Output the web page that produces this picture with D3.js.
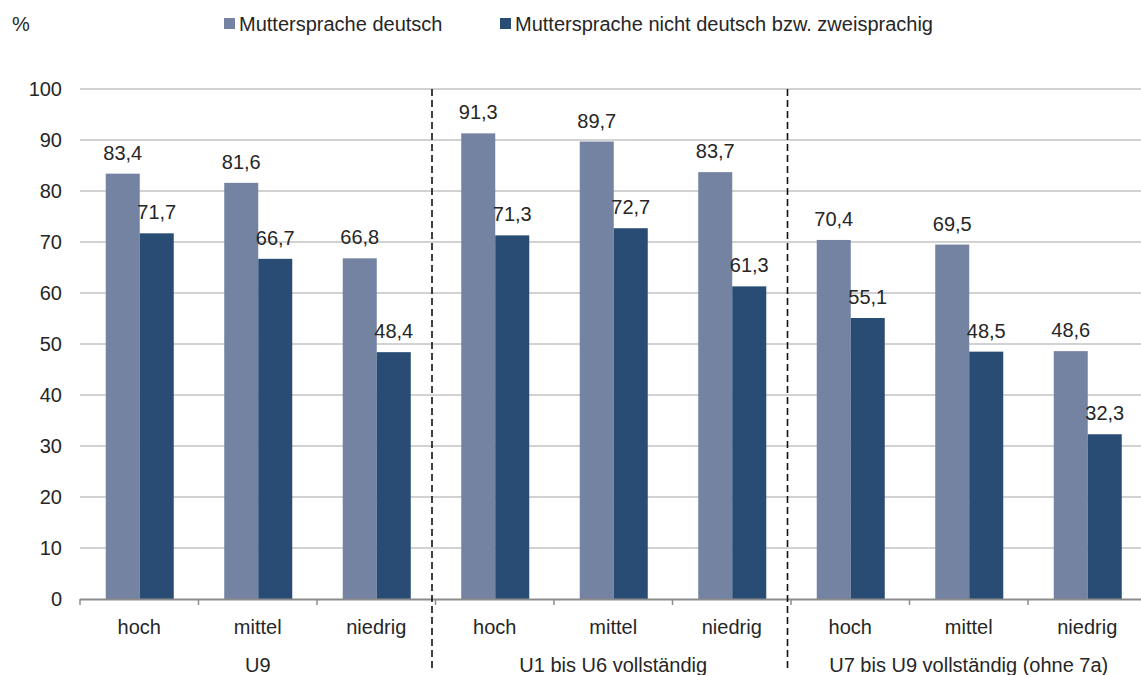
<!DOCTYPE html>
<html>
<head>
<meta charset="utf-8">
<script src="https://cdn.jsdelivr.net/npm/d3@7/dist/d3.min.js"></script>
<style>
  body { margin: 0; background: #fff; }
  svg text { font-family: "Liberation Sans", Arial, sans-serif; fill: #262626; }
</style>
</head>
<body>
<svg id="chart" width="1141" height="675"></svg>
<script>
// Values in percent
const groups = ["U9", "U1 bis U6 vollständig", "U7 bis U9 vollständig (ohne 7a)"];
const levels = ["hoch", "mittel", "niedrig"];
const seriesNames = ["Muttersprache deutsch", "Muttersprache nicht deutsch bzw. zweisprachig"];
const deutsch = [83.4, 81.6, 66.8, 91.3, 89.7, 83.7, 70.4, 69.5, 48.6];
const nichtDeutsch = [71.7, 66.7, 48.4, 71.3, 72.7, 61.3, 55.1, 48.5, 32.3];
const yTicks = [0, 10, 20, 30, 40, 50, 60, 70, 80, 90, 100];
const colors = ["#7383a1", "#294c74"];

const svg = d3.select("#chart");
const plotLeft = 80, plotRight = 1146.5, plotTop = 89, plotBottom = 599;
const fs = 20;

const cats = d3.range(9);
const x = d3.scaleBand().domain(cats).range([plotLeft, plotRight]);
const y = d3.scaleLinear().domain([0, 100]).range([plotBottom, plotTop]);
const bw = x.bandwidth();
const barW = bw * 0.287;
const groupOffset = (bw - 2 * barW) / 2 + 0.5;

const fmt = v => v.toFixed(1).replace(".", ",");

// gridlines
svg.append("g").selectAll("line").data(yTicks.filter(d => d > 0)).join("line")
  .attr("x1", plotLeft).attr("x2", 1141)
  .attr("y1", d => y(d)).attr("y2", d => y(d))
  .attr("stroke", "#a6a6a6").attr("stroke-width", 1.2);

// y axis labels
svg.append("g").selectAll("text").data(yTicks).join("text")
  .attr("x", 62).attr("y", d => y(d)).attr("dy", "0.36em")
  .attr("text-anchor", "end").attr("font-size", fs).text(d => d);

// bars with value labels
const series = [deutsch, nichtDeutsch];
series.forEach((vals, s) => {
  const g = svg.append("g");
  g.selectAll("rect").data(vals).join("rect")
    .attr("x", (d, i) => x(i) + groupOffset + s * barW)
    .attr("y", d => y(d))
    .attr("width", barW)
    .attr("height", d => plotBottom - y(d))
    .attr("fill", colors[s]);
  g.selectAll("text").data(vals).join("text")
    .attr("x", (d, i) => x(i) + groupOffset + s * barW + barW / 2)
    .attr("y", d => y(d) - 14)
    .attr("text-anchor", "middle").attr("font-size", fs)
    .text(d => fmt(d));
});

// x axis line and ticks
svg.append("line").attr("x1", plotLeft).attr("x2", 1141)
  .attr("y1", plotBottom + 0.5).attr("y2", plotBottom + 0.5)
  .attr("stroke", "#8c8c8c").attr("stroke-width", 2);
svg.append("g").selectAll("line").data(d3.range(10)).join("line")
  .attr("x1", i => plotLeft + i * bw).attr("x2", i => plotLeft + i * bw)
  .attr("y1", plotBottom).attr("y2", plotBottom + 6)
  .attr("stroke", "#8c8c8c").attr("stroke-width", 1.5);

// category labels
svg.append("g").selectAll("text").data(cats).join("text")
  .attr("x", i => x(i) + bw / 2).attr("y", 634)
  .attr("text-anchor", "middle").attr("font-size", fs)
  .text(i => levels[i % 3]);

// group labels
svg.append("g").selectAll("text").data(groups).join("text")
  .attr("x", (d, g) => x(g * 3) + bw * 1.5).attr("y", 672)
  .attr("text-anchor", "middle").attr("font-size", fs)
  .text(d => d);

// dashed separators between groups
svg.append("g").selectAll("line").data([3, 6]).join("line")
  .attr("x1", i => x(i) - 3.5).attr("x2", i => x(i) - 3.5)
  .attr("y1", 89).attr("y2", 670)
  .attr("stroke", "#111").attr("stroke-width", 1.6)
  .attr("stroke-dasharray", "7,4");

// unit label
svg.append("text").attr("x", 12).attr("y", 31).attr("font-size", fs).text("%");

// legend
const legendX = [224, 500];
seriesNames.forEach((name, s) => {
  svg.append("rect").attr("x", legendX[s]).attr("y", 18)
    .attr("width", 11).attr("height", 11).attr("fill", colors[s]);
  svg.append("text").attr("x", legendX[s] + 15).attr("y", 31)
    .attr("font-size", fs).text(name);
});
</script>
</body>
</html>
